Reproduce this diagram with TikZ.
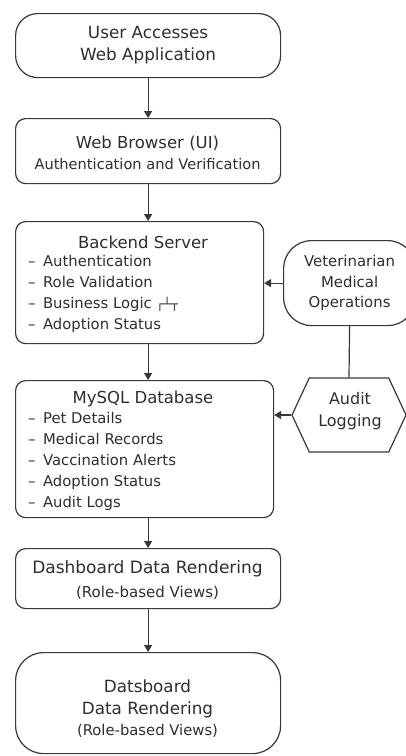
\documentclass[tikz,border=0pt]{standalone}
\usepackage{fontspec}
\setmainfont{DejaVu Sans}
\usetikzlibrary{arrows.meta,shapes.symbols}
\definecolor{ink}{HTML}{2E2E2E}
\definecolor{edge}{HTML}{383838}
\newcommand{\titlesize}{\fontsize{16.5}{21}\selectfont}
\newcommand{\subsize}{\fontsize{14.8}{21}\selectfont}
\newcommand{\itm}{–\hspace{7.5pt}}
\begin{document}
\begin{tikzpicture}[x=1pt,y=-1pt,
  box/.style={draw=edge, line width=1.2pt, rounded corners=10pt, anchor=north west,
    inner sep=0pt, text=ink, align=center},
  pill/.style={box, rounded corners=26pt},
  label/.style={text=ink, inner sep=0pt},
  arr/.style={draw=edge, line width=1.2pt, -{Triangle[width=8pt,length=7pt]}},
  link/.style={draw=edge, line width=1.2pt}
]
\useasboundingbox (0,0) rectangle (406,756);

% main column
\node[pill, rounded corners=22pt, minimum width=265pt, minimum height=64pt,
  font=\fontsize{16.8}{22}\selectfont] (user) at (15,13)
  {User Accesses\\Web Application};
\node[box, minimum width=265pt, minimum height=65pt] (ui) at (15,118) {};
\node[label, align=center, font=\titlesize] (uiText) at (147.5,152.5)
  {Web Browser (UI)\\{\fontsize{14.6}{21}\selectfont Authentication and Verification}};

\node[box, minimum width=248pt, minimum height=122pt] (server) at (15,221) {};
\node[label, font=\titlesize] (serverTitle) at (143,242) {Backend Server};
\node[label, font=\subsize, anchor=west, align=left] (serverItems) at (28,293.7)
  {\itm Authentication\\\itm Role Validation\\\itm Business Logic {\fontsize{12}{12}\selectfont ┌┴┬}\\\itm Adoption Status};

\node[box, minimum width=258pt, minimum height=137pt] (db) at (15,380) {};
\node[label, font=\titlesize] (dbTitle) at (143,399) {MySQL Database};
\node[label, font=\fontsize{14.8}{20.8}\selectfont, anchor=west, align=left] (dbItems) at (28,461.5)
  {\itm Pet Details\\\itm Medical Records\\\itm Vaccination Alerts\\\itm Adoption Status\\\itm Audit Logs};

\node[box, minimum width=265pt, minimum height=60pt] (dash) at (15,548) {};
\node[label, align=center, font=\fontsize{17}{24}\selectfont] (dashText) at (147.5,580)
  {Dashboard Data Rendering\\{\fontsize{15}{24}\selectfont (Role-based Views)}};

\node[pill, rounded corners=28pt, minimum width=265pt, minimum height=101pt] (final) at (15,652) {};
\node[label, align=center, font=\fontsize{16.8}{21.5}\selectfont] (finalText) at (147.5,709)
  {Datsboard\\Data Rendering\\{\fontsize{14.8}{23}\selectfont (Role-based Views)}};

% side column
\node[pill, font=\fontsize{14.9}{20.5}\selectfont, rounded corners=28pt,
  minimum width=132pt, minimum height=85pt] (vet) at (283,240)
  {Veterinarian\\Medical\\Operations};
\node[draw=edge, line width=1.2pt, shape=signal, signal to=west and east, signal pointer angle=130,
  minimum width=114pt, minimum height=74pt, inner sep=0pt] (audit) at (349,415) {};
\node[label, align=center, font=\fontsize{16}{22}\selectfont] (auditText) at (350,411)
  {Audit\\Logging};

% connectors
\draw[arr] (user) -- (ui);
\draw[arr] (ui.south) -- (ui.south |- server.north);
\draw[arr] (ui.south |- server.south) -- (ui.south |- db.north);
\draw[arr] (ui.south |- db.south) -- (ui.south |- dash.north);
\draw[arr] (dash.south) -- (final.north);
\draw[arr] (vet.west) -- (vet.west -| server.east);
\draw[link] (vet.south) -- (audit.north);
\draw[arr] (audit.west) -- (audit.west -| db.east);
\end{tikzpicture}
\end{document}
